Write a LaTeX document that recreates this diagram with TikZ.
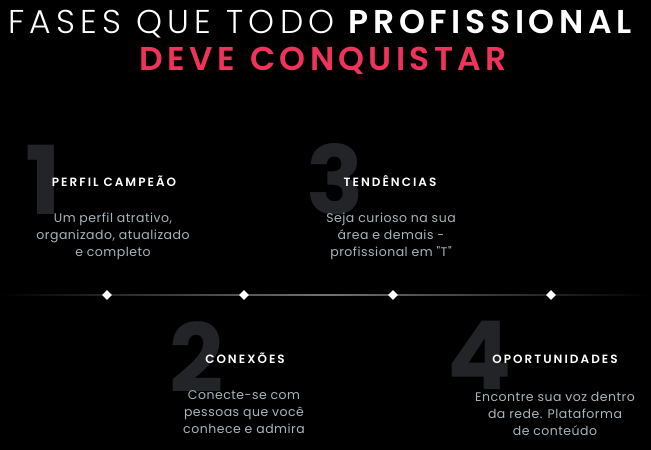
\documentclass[tikz,border=0pt]{standalone}
\usepackage{fontspec}
\usetikzlibrary{shapes.geometric}
\setmainfont{Poppins}
\newfontfamily\lightfont[LetterSpace=16,WordSpace=1.05]{Poppins Light}
\newfontfamily\semifont[LetterSpace=14]{Poppins SemiBold}
\newfontfamily\pinkfont[LetterSpace=13,WordSpace=1.3]{Poppins SemiBold}
\newfontfamily\headfont[LetterSpace=17]{Poppins SemiBold}
\newfontfamily\bodyfont[LetterSpace=4]{Poppins}
\definecolor{pink}{HTML}{F0335A}
\definecolor{bodygray}{HTML}{A9B4BB}
\definecolor{digitgray}{HTML}{222427}
\begin{document}
\begin{tikzpicture}[x=1pt,y=-1pt,
  title/.style={anchor=base,inner sep=0,font=\fontsize{33}{36}\selectfont},
  digit/.style={anchor=base west,inner sep=0,text=digitgray,font=\fontsize{95}{100}\selectfont\bfseries},
  head/.style={anchor=base,inner sep=0,text=white,font=\headfont\fontsize{12}{14}\selectfont},
  body/.style={anchor=north,inner sep=0,align=center,text=bodygray,font=\bodyfont\fontsize{12.5}{17}\selectfont},
  gem/.style={diamond,fill=white,inner sep=0,minimum size=10pt}]
\useasboundingbox (0,0) rectangle (651,450);
\fill[black] (0,0) rectangle (651,450);
% title
\node[title,text=white] (t1) at (320,33) {{\lightfont FASES QUE TODO}\hspace{14pt}{\semifont PROFISSIONAL}};
\node[title,text=pink] (t2) at (323,70) {\pinkfont DEVE CONQUISTAR};
% big digits
\node[digit] (d1) at (25,214) {1};
\node[digit] (d3) at (306,214) {3};
\node[digit] (d2) at (169,392) {2};
\node[digit] (d4) at (447,389) {4};
% headings
\node[head] (h1) at (114,186) {PERFIL CAMPEÃO};
\node[head] (h3) at (390,186) {TENDÊNCIAS};
\node[head] (h2) at (245,363) {CONEXÕES};
\node[head] (h4) at (555,363) {OPORTUNIDADES};
% bodies
\node[body] (b1) at (113,213) {Um perfil atrativo,\\organizado, atualizado\\e completo};
\node[body] (b3) at (391,213) {Seja curioso na sua\\área e demais -\\profissional em "T"};
\node[body] (b2) at (244,390) {Conecte-se com\\pessoas que você\\conhece e admira};
\node[body] (b4) at (555,392) {Encontre sua voz dentro\\da rede. Plataforma\\de conteúdo};
% timeline
\shade[left color=black,right color=black,middle color=black!55!white] (0,294.2) rectangle (651,295.8);
\node[gem] (p1) at (107,295) {};
\node[gem] (p2) at (244,295) {};
\node[gem] (p3) at (393,295) {};
\node[gem] (p4) at (551,295) {};
\end{tikzpicture}
\end{document}
